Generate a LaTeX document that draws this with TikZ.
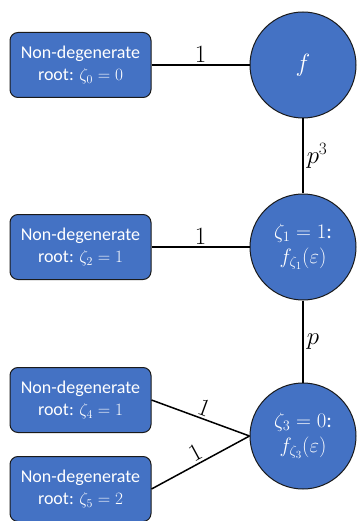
\documentclass[tikz,border=0pt]{standalone}
\usepackage{fontspec}
\setmainfont{Carlito}
\usetikzlibrary{shapes,calc}
\usepackage{xcolor}
\definecolor{nodeblue}{HTML}{4472C4}
\definecolor{rimdark}{HTML}{1A1A1A}

\tikzset{
  rootbox/.style={draw=rimdark, line width=1pt, fill=nodeblue, rounded corners=8pt,
    minimum width=141pt, minimum height=65pt, text=white, align=center,
    font=\fontsize{18}{22}\selectfont, inner sep=0pt},
  factorball/.style={draw=rimdark, line width=1pt, fill=nodeblue, circle,
    minimum size=106pt, text=white, align=center,
    font=\fontsize{21}{25}\selectfont, inner sep=0pt},
  branch/.style={line width=1.5pt, black},
  mult/.style={font=\fontsize{23}{23}\selectfont, inner sep=2pt}
}

\begin{document}
\begin{tikzpicture}[x=1pt, y=-1pt]

  % Canvas
  \useasboundingbox (0, 0) rectangle (357, 521);

  % Factor circles
  \node[factorball, font=\fontsize{32}{32}\selectfont] (f) at (303, 65) {$f$};
  \node[factorball] (z1) at (303, 247) {$\zeta_1=1$:\\$f_{\zeta_1}(\varepsilon)$};
  \node[factorball] (z3) at (303, 436) {$\zeta_3=0$:\\$f_{\zeta_3}(\varepsilon)$};

  % Root boxes
  \node[rootbox] (r0) at (80.5, 65) {Non-degenerate\\root: $\zeta_0=0$};
  \node[rootbox] (r2) at (80.5, 247) {Non-degenerate\\root: $\zeta_2=1$};
  \node[rootbox] (r4) at (80.5, 400) {Non-degenerate\\root: $\zeta_4=1$};
  \node[rootbox] (r5) at (80.5, 489) {Non-degenerate\\root: $\zeta_5=2$};

  % Vertical links
  \draw[branch] (f) -- node[mult, right, xshift=1pt] {$p^3$} (z1);
  \draw[branch] (z1) -- node[mult, right, xshift=1pt] {$p$} (z3);

  % Root links
  \draw[branch] (r0) -- node[mult, above] {$1$} (f);
  \draw[branch] (r2) -- node[mult, above] {$1$} (z1);
  \draw[branch] (r4.east) -- node[mult, above, sloped] {$1$} (z3.west);
  \draw[branch] (r5.east) -- node[mult, above, sloped] {$1$} (z3.west);

\end{tikzpicture}
\end{document}
